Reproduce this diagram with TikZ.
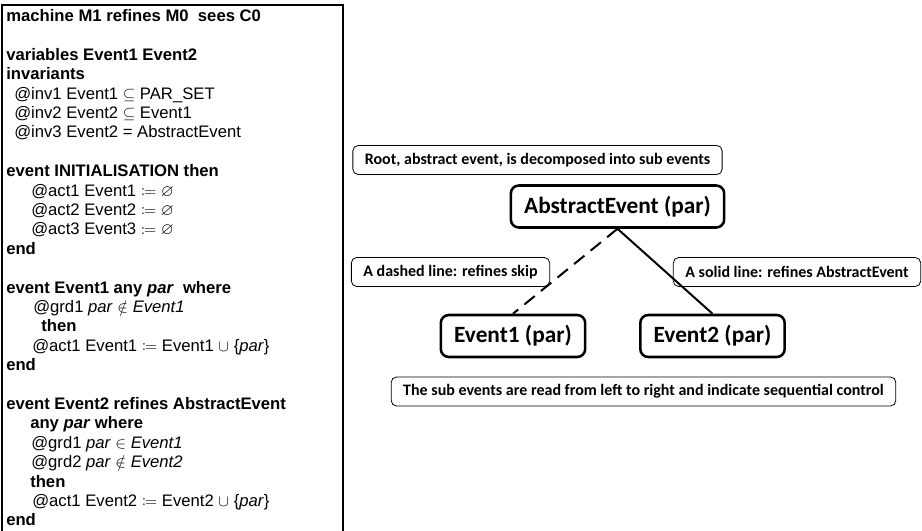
\documentclass[tikz,border=0pt]{standalone}
\usepackage{amssymb}
\usepackage{mathtools}
\usepackage{fontspec}
\setmainfont{Liberation Sans}
\newfontfamily\calfont{Carlito}

\begin{document}
\begin{tikzpicture}[
    x=0.75pt, y=-0.75pt,
    code/.style={anchor=base west, inner sep=0pt,
        font=\fontsize{12.5pt}{14.5pt}\selectfont},
    event/.style={draw=black, line width=1.9pt, rounded corners=6pt,
        minimum height=31.5pt, inner xsep=10pt,
        font=\calfont\bfseries\fontsize{17.5pt}{20pt}\selectfont},
    note/.style={draw=black, line width=0.6pt, rounded corners=4pt,
        minimum height=21.75pt, inner xsep=9pt,
        font=\calfont\bfseries\fontsize{12pt}{14pt}\selectfont},
    link/.style={line width=1.5pt}
]
    \useasboundingbox (0,0) rectangle (922,531);
    % machine text
    \draw[line width=1.5pt] (2,545) -- (2,5) -- (343,5) -- (343,545);
    \node[code] (hdr) at (6,21.5) {\textbf{machine M1 refines M0\ \ sees C0}};
    \node[code] (vars) at (6,60.3) {\textbf{variables Event1 Event2}};
    \node[code] (invs) at (6,79.7) {\textbf{invariants}};
    \node[code] (inv1) at (14,99.1) {@inv1 Event1 \smash{$\subseteq$} PAR\_SET};
    \node[code] (inv2) at (14,118.5) {@inv2 Event2 \smash{$\subseteq$} Event1};
    \node[code] (inv3) at (14,137.9) {@inv3 Event2 = AbstractEvent};
    \node[code] (init) at (6,176.7) {\textbf{event INITIALISATION then}};
    \node[code] (ia1) at (31,196.1) {@act1 Event1 \smash{$\coloneqq$} \smash{$\varnothing$}};
    \node[code] (ia2) at (31,215.5) {@act2 Event2 \smash{$\coloneqq$} \smash{$\varnothing$}};
    \node[code] (ia3) at (31,234.9) {@act3 Event3 \smash{$\coloneqq$} \smash{$\varnothing$}};
    \node[code] (iend) at (6,254.3) {\textbf{end}};
    \node[code] (ev1) at (6,293.1) {\textbf{event Event1 any \textit{par}\ \ where}};
    \node[code] (g11) at (33,312.5) {@grd1 \textit{par} \smash{$\notin$} \textit{Event1}};
    \node[code] (then1) at (41,331.9) {\textbf{then}};
    \node[code] (a11) at (32,351.3) {@act1 Event1 \smash{$\coloneqq$} Event1 \smash{$\cup$} \{\textit{par}\}};
    \node[code] (end1) at (6,370.7) {\textbf{end}};
    \node[code] (ev2) at (6,409.5) {\textbf{event Event2 refines AbstractEvent}};
    \node[code] (any2) at (30,428.9) {\textbf{any \textit{par} where}};
    \node[code] (g21) at (31,448.3) {@grd1 \textit{par} \smash{$\in$} \textit{Event1}};
    \node[code] (g22) at (31,467.7) {@grd2 \textit{par} \smash{$\notin$} \textit{Event2}};
    \node[code] (then2) at (30,487.1) {\textbf{then}};
    \node[code] (a21) at (32,506.5) {@act1 Event2 \smash{$\coloneqq$} Event2 \smash{$\cup$} \{\textit{par}\}};
    \node[code] (end2) at (6,525.9) {\textbf{end}};
    % decomposition tree
    \node[note] (root) at (537.5,160) {Root, abstract event, is decomposed into sub events};
    \node[event] (abs) at (617.5,206.5) {AbstractEvent (par)};
    \node[note] (skip) at (450.5,272) {A dashed line: refines skip};
    \node[note] (solid) at (797,272) {A solid line: refines AbstractEvent};
    \node[event] (e1) at (513,336) {Event1 (par)};
    \node[event] (e2) at (712.5,336) {Event2 (par)};
    \node[note] (order) at (643.5,391.5) {The sub events are read from left to right and indicate sequential control};
    \draw[link, dash pattern=on 10pt off 6pt] (abs.south) -- (e1.north);
    \draw[link] (abs.south) -- (e2.north);
\end{tikzpicture}
\end{document}
